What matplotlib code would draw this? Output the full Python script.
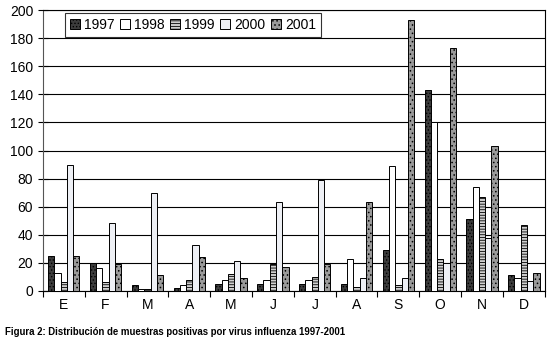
import matplotlib.pyplot as plt
import numpy as np

plt.rcParams['font.family'] = ['Liberation Sans', 'DejaVu Sans']
plt.rcParams['hatch.linewidth'] = 0.6

# Datos: muestras positivas por mes
meses = ['E', 'F', 'M', 'A', 'M', 'J', 'J', 'A', 'S', 'O', 'N', 'D']
anios = ['1997', '1998', '1999', '2000', '2001']

v1997 = [25, 20, 4, 2, 5, 5, 5, 5, 29, 143, 51, 11]
v1998 = [13, 16, 1, 4, 8, 8, 8, 23, 89, 120, 74, 9]
v1999 = [6, 6, 1, 8, 12, 19, 10, 3, 4, 23, 67, 47]
v2000 = [90, 48, 70, 33, 21, 63, 79, 9, 9, 20, 38, 7]
v2001 = [25, 19, 11, 24, 9, 17, 19, 63, 193, 173, 103, 13]

series = [v1997, v1998, v1999, v2000, v2001]
colores = ['#3c3c3c', '#ffffff', '#cfcfcf', '#eef0f5', '#9a9a9a']
tramas = ['.....', '', '------', '', '....']

fig = plt.figure(figsize=(5.57, 3.5), dpi=100)
ax = fig.add_axes([0.077, 0.169, 0.901, 0.802])

x = np.arange(len(meses))
ancho = 0.15
for i, vals in enumerate(series):
    ax.bar(x + (i - 2) * ancho, vals, ancho, color=colores[i], hatch=tramas[i],
           edgecolor='black', linewidth=0.7, label=anios[i], zorder=3)

ax.set_ylim(0, 200)
ax.set_yticks(range(0, 201, 20))
ax.set_xlim(-0.5, 11.5)
ax.set_xticks(np.arange(-0.5, 12, 1))
ax.set_xticklabels([])
ax.set_xticks(x, minor=True)
ax.set_xticklabels(meses, minor=True)
ax.tick_params(axis='x', which='minor', length=0, pad=5, labelsize=10)
ax.tick_params(axis='x', which='major', direction='out', length=4, width=0.8)
ax.tick_params(axis='y', direction='inout', length=7, width=0.8, labelsize=10)
ax.grid(axis='y', color='black', linewidth=0.8, zorder=0)

for lado in ['left', 'bottom', 'right', 'top']:
    ax.spines[lado].set_linewidth(0.8)
ax.spines['left'].set_color('#555555')

ley = ax.legend(ncol=5, loc='upper left', bbox_to_anchor=(0.045, 0.99),
                fontsize=10, frameon=True, fancybox=False, edgecolor='black',
                handlelength=0.7, handleheight=0.7, handletextpad=0.3,
                columnspacing=0.4, borderpad=0.35, borderaxespad=0)
ley.get_frame().set_linewidth(0.8)

fig.text(0.009, 0.042, 'Figura 2: Distribución de muestras positivas por virus influenza 1997-2001',
         fontsize=6.9, fontweight='bold')

fig.savefig('out.png', dpi=100)
